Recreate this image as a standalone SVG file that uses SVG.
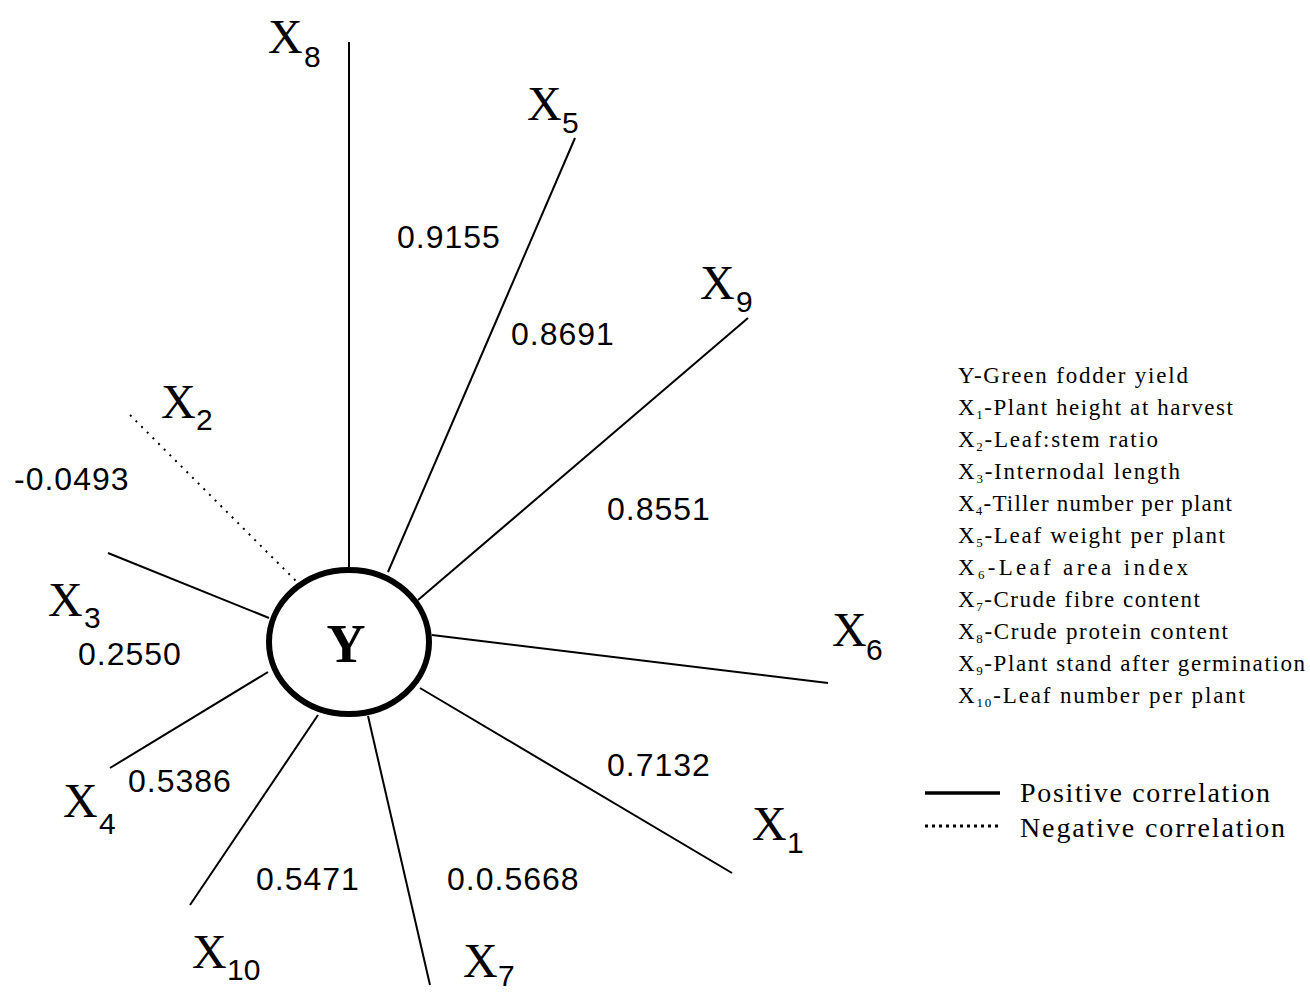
<svg xmlns="http://www.w3.org/2000/svg" width="1310" height="994" viewBox="0 0 1310 994">
<style>
.edge{stroke:#000;stroke-width:2;fill:none}
.neg{stroke:#000;stroke-width:2;stroke-dasharray:2 6;fill:none}
.xl{font-family:"Liberation Serif","Times New Roman",serif;font-size:48px;fill:#000}
.sub{font-family:"Liberation Sans",Arial,sans-serif;font-size:30px;fill:#000}
.val{font-family:"Liberation Sans",Arial,sans-serif;font-size:32px;fill:#000;letter-spacing:1px}
.leg{font-family:"Liberation Serif","Times New Roman",serif;font-size:23px;fill:#000}
.lsub{font-size:13px}
.leg2{font-family:"Liberation Serif","Times New Roman",serif;font-size:28px;fill:#000}
</style>
<rect width="1310" height="994" fill="#fff"/>
<g id="connectors">
<line class="edge" x1="349" y1="42" x2="349" y2="567"/>
<line class="edge" x1="575" y1="138" x2="388" y2="572"/>
<line class="edge" x1="748" y1="318" x2="418" y2="600"/>
<line class="neg" x1="130" y1="415" x2="298" y2="583"/>
<line class="edge" x1="108" y1="553" x2="269" y2="618"/>
<line class="edge" x1="828" y1="683" x2="432" y2="635"/>
<line class="edge" x1="110" y1="768" x2="268" y2="672"/>
<line class="edge" x1="732" y1="873" x2="420" y2="688"/>
<line class="edge" x1="190" y1="905" x2="318" y2="715"/>
<line class="edge" x1="430" y1="985" x2="368" y2="716"/>
</g>
<g id="edge-labels">
<text class="val" x="397" y="248">0.9155</text>
<text class="val" x="511" y="345">0.8691</text>
<text class="val" x="607" y="520">0.8551</text>
<text class="val" x="14" y="490">-0.0493</text>
<text class="val" x="78" y="665">0.2550</text>
<text class="val" x="128" y="792">0.5386</text>
<text class="val" x="256" y="890">0.5471</text>
<text class="val" x="447" y="890">0.0.5668</text>
<text class="val" x="607" y="776">0.7132</text>
</g>
<g id="node-Y">
<ellipse cx="349" cy="642" rx="80" ry="72" fill="#fff" stroke="#000" stroke-width="6"/>
<text x="346" y="662" text-anchor="middle" style="font-family:'Liberation Serif','Times New Roman',serif;font-size:54px;font-weight:bold">Y</text>
</g>
<g id="node-X8"><text class="xl" x="268" y="53">X</text><text class="sub" x="304" y="67">8</text></g>
<g id="node-X5"><text class="xl" x="527" y="120">X</text><text class="sub" x="562" y="133">5</text></g>
<g id="node-X9"><text class="xl" x="700" y="299">X</text><text class="sub" x="736" y="312">9</text></g>
<g id="node-X2"><text class="xl" x="161" y="418">X</text><text class="sub" x="196" y="430">2</text></g>
<g id="node-X3"><text class="xl" x="48" y="616">X</text><text class="sub" x="84" y="628">3</text></g>
<g id="node-X6"><text class="xl" x="832" y="646">X</text><text class="sub" x="866" y="660">6</text></g>
<g id="node-X4"><text class="xl" x="63" y="817">X</text><text class="sub" x="99" y="834">4</text></g>
<g id="node-X1"><text class="xl" x="752" y="840">X</text><text class="sub" x="787" y="853">1</text></g>
<g id="node-X10"><text class="xl" x="192" y="968">X</text><text class="sub" x="227" y="980">10</text></g>
<g id="node-X7"><text class="xl" x="463" y="977">X</text><text class="sub" x="498" y="986">7</text></g>
<g id="legend">
<text class="leg" x="958" y="383" textLength="230" lengthAdjust="spacing">Y-Green fodder yield</text>
<text class="leg" x="958" y="415" textLength="275" lengthAdjust="spacing">X<tspan class="lsub" dy="4">1</tspan><tspan dy="-4">-Plant height at harvest</tspan></text>
<text class="leg" x="958" y="447" textLength="200" lengthAdjust="spacing">X<tspan class="lsub" dy="4">2</tspan><tspan dy="-4">-Leaf:stem ratio</tspan></text>
<text class="leg" x="958" y="479" textLength="222" lengthAdjust="spacing">X<tspan class="lsub" dy="4">3</tspan><tspan dy="-4">-Internodal length</tspan></text>
<text class="leg" x="958" y="511" textLength="274" lengthAdjust="spacing">X<tspan class="lsub" dy="4">4</tspan><tspan dy="-4">-Tiller number per plant</tspan></text>
<text class="leg" x="958" y="543" textLength="267" lengthAdjust="spacing">X<tspan class="lsub" dy="4">5</tspan><tspan dy="-4">-Leaf weight per plant</tspan></text>
<text class="leg" x="958" y="575" textLength="230" lengthAdjust="spacing">X<tspan class="lsub" dy="4">6</tspan><tspan dy="-4">-Leaf area index</tspan></text>
<text class="leg" x="958" y="607" textLength="242" lengthAdjust="spacing">X<tspan class="lsub" dy="4">7</tspan><tspan dy="-4">-Crude fibre content</tspan></text>
<text class="leg" x="958" y="639" textLength="270" lengthAdjust="spacing">X<tspan class="lsub" dy="4">8</tspan><tspan dy="-4">-Crude protein content</tspan></text>
<text class="leg" x="958" y="671" textLength="347" lengthAdjust="spacing">X<tspan class="lsub" dy="4">9</tspan><tspan dy="-4">-Plant stand after germination</tspan></text>
<text class="leg" x="958" y="703" textLength="287" lengthAdjust="spacing">X<tspan class="lsub" dy="4">10</tspan><tspan dy="-4">-Leaf number per plant</tspan></text>
<line x1="925" y1="793" x2="1000" y2="793" stroke="#000" stroke-width="3.5"/>
<line x1="925" y1="826" x2="1000" y2="826" stroke="#000" stroke-width="3" stroke-dasharray="3 4"/>
<text class="leg2" x="1020" y="802" textLength="250" lengthAdjust="spacing">Positive correlation</text>
<text class="leg2" x="1020" y="837" textLength="265" lengthAdjust="spacing">Negative correlation</text>
</g>
</svg>
